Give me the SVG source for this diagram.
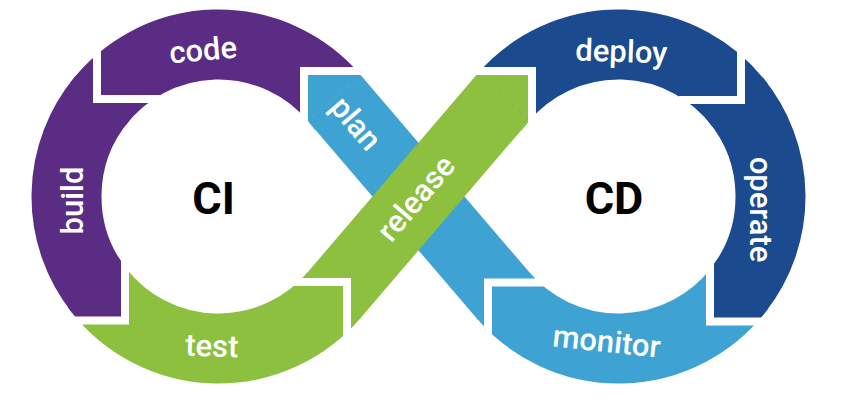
<svg xmlns="http://www.w3.org/2000/svg" width="845" height="400" viewBox="0 0 845 400">
<style>
.band{fill:none;stroke-width:70;stroke-linecap:butt}
.pu{stroke:#5b2c84}.gr{stroke:#8cc03e}.db{stroke:#1c4a8e}.lb{stroke:#3ea3d3}
.fpu{fill:#5b2c84}.fgr{fill:#8cc03e}.fdb{fill:#1c4a8e}.flb{fill:#3ea3d3}
.gap{fill:none;stroke:#fff;stroke-width:8;stroke-linejoin:miter;stroke-linecap:butt}
.lbl{font-family:Roboto,'Liberation Sans',sans-serif;font-size:31px;font-weight:500;fill:#fff;text-anchor:middle}
.big{font-family:Roboto,'Liberation Sans',sans-serif;font-size:45px;font-weight:700;fill:#000;text-anchor:middle}
</style>
<defs>
<clipPath id="band">
<path clip-rule="evenodd" d="M31.5 196.5a187 187 0 1 0 374 0a187 187 0 1 0 -374 0ZM101.5 196.5a117 117 0 1 0 234 0a117 117 0 1 0 -234 0Z"/>
<path clip-rule="evenodd" d="M431.5 196.5a187 187 0 1 0 374 0a187 187 0 1 0 -374 0ZM501.5 196.5a117 117 0 1 0 234 0a117 117 0 1 0 -234 0Z"/>
<polygon points="360.62,74.96 307.42,120.46 476.4,318.05 529.6,272.55"/>
<polygon points="360.62,318.04 307.42,272.54 476.38,74.96 529.58,120.46"/>
</clipPath>
</defs>
<rect width="845" height="400" fill="#fff"/>

<g id="node-test">
<path class="band gr" d="M99.38 290.91A152 152 0 0 0 334.02 295.29"/>
<text class="lbl" transform="translate(211.5,356.5) rotate(2)">test</text>
</g>
<g id="node-build">
<path class="band pu" d="M102.07 98.8A152 152 0 0 0 99.38 290.91"/>
<polygon class="fpu" clip-path="url(#band)" points="125,320.5 55,320.5 125,250.5"/>
<text class="lbl" transform="translate(83,200.5) rotate(-90)">build</text>
</g>
<g id="node-code">
<path class="band pu" d="M334.02 97.71A152 152 0 0 0 97.9 103.97"/>
<text class="lbl" transform="translate(204,60.5) rotate(-5)">code</text>
</g>
<g id="node-monitor">
<path class="band lb" d="M738.28 290.08A152 152 0 0 1 502.99 295.3"/>
<text class="lbl" transform="translate(605.5,352) rotate(6)">monitor</text>
</g>
<g id="node-operate">
<path class="band db" d="M735.78 99.81A152 152 0 0 1 738.28 290.08"/>
<polygon class="fdb" clip-path="url(#band)" points="710,321.5 780,321.5 710,251.5"/>
<text class="lbl" transform="translate(750,209.5) rotate(90)">operate</text>
</g>
<g id="node-deploy">
<path class="band db" d="M502.98 97.71A152 152 0 0 1 739.89 105.03"/>
<text class="lbl" transform="translate(621,62) rotate(2)">deploy</text>
</g>
<g id="node-plan">
<path class="band lb" d="M504.29 296.82L334.02 97.71"/>
<polygon class="flb" clip-path="url(#band)" points="304,71 374,71 304,141"/>
<text class="lbl" transform="translate(347.9,130.2) rotate(49.5)">plan</text>
</g>
<g id="node-release">
<path class="band gr" d="M332.72 296.81L502.98 97.71"/>
<polygon class="fgr" clip-path="url(#band)" points="532,71 462,71 532,141"/>
<text class="lbl" transform="translate(424,205) rotate(-49.5)">release</text>
</g>

<g id="separators">
<path class="gap" d="M366 71H304V133"/>
<path class="gap" d="M160 99H97V37"/>
<path class="gap" d="M64 320.5H125V258"/>
<path class="gap" d="M285 282H347V344"/>
<path class="gap" d="M470 71H532V133"/>
<path class="gap" d="M679 100H741V38"/>
<path class="gap" d="M772 321.5H710V259"/>
<path class="gap" d="M550 282.5H488V344"/>
</g>

<g id="node-ci"><text class="big" x="213.5" y="214">CI</text></g>
<g id="node-cd"><text class="big" x="614" y="214">CD</text></g>
</svg>
